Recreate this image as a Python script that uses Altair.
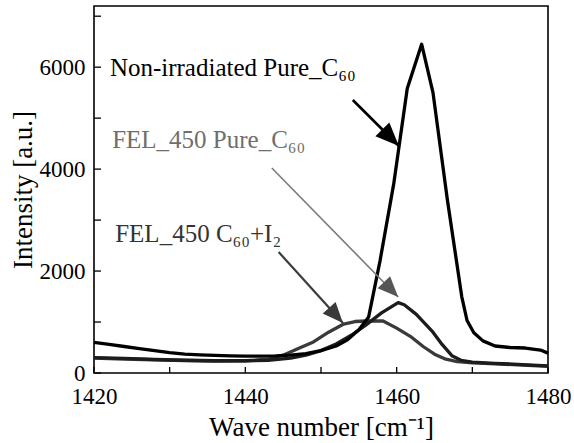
import altair as alt
import pandas as pd

# ---- data ----
black_x = [1420, 1422, 1424, 1426, 1428, 1430, 1432, 1434, 1436, 1438, 1440, 1442, 1444, 1446,
           1448, 1450, 1452, 1453.5, 1455, 1456.3, 1457.8, 1459.6, 1461.4, 1463.3, 1464.8,
           1466.7, 1468.6, 1469.3, 1470.2, 1471.4, 1473, 1475, 1477, 1479, 1480]
black_y = [600, 560, 520, 480, 440, 400, 370, 355, 345, 335, 330, 330, 335, 350,
           380, 440, 530, 650, 850, 1100, 2200, 3700, 5580, 6450, 5500,
           3400, 1500, 1030, 790, 630, 530, 500, 490, 450, 390]

pure_x = [1420, 1424, 1428, 1432, 1436, 1440, 1443, 1446, 1448, 1450, 1452, 1454, 1456, 1458,
          1460.2, 1461, 1462.6, 1464.8, 1466, 1467.3, 1468.5, 1470, 1473, 1476, 1480]
pure_y = [300, 285, 265, 250, 240, 240, 250, 290, 350, 440, 570, 740, 950, 1180,
          1380, 1340, 1150, 800, 560, 340, 250, 215, 190, 170, 140]

iod_x = [1420, 1424, 1428, 1432, 1436, 1440, 1443, 1445, 1447, 1449, 1451, 1453, 1454.5, 1456,
         1458.2, 1460, 1461.8, 1463.5, 1465, 1466.5, 1468, 1470, 1473, 1476, 1480]
iod_y = [290, 275, 260, 245, 235, 240, 270, 350, 480, 610, 800, 960, 1010, 1020,
         1020, 880, 720, 520, 370, 270, 225, 200, 180, 160, 130]

series_names = ["FEL_450 C60+I2", "FEL_450 Pure_C60", "Non-irradiated Pure_C60"]

label_text = ["Non-irradiated Pure_C₆₀", "FEL_450 Pure_C₆₀", "FEL_450 C₆₀+I₂"]
label_x = [1422.1, 1422.4, 1422.8]
label_y = [5827, 4414, 2570]

arrow_x1 = [1454.2, 1443.5, 1444.4]
arrow_y1 = [5356, 4022, 2374]
arrow_x2 = [1460.3, 1460.2, 1452.9]
arrow_y2 = [4454, 1491, 981]
arrow_angle = [135, 136, 138]

x_ticks = [1420, 1430, 1440, 1450, 1460, 1470, 1480]
y_ticks = [0, 1000, 2000, 3000, 4000, 5000, 6000, 7000]
x_labels = [1420, 1440, 1460, 1480]
y_labels = [0, 2000, 4000, 6000]

# ---- tables ----
curves = pd.concat([
    pd.DataFrame({"wn": iod_x, "I": iod_y, "series": series_names[0]}),
    pd.DataFrame({"wn": pure_x, "I": pure_y, "series": series_names[1]}),
    pd.DataFrame({"wn": black_x, "I": black_y, "series": series_names[2]}),
], ignore_index=True)

labels = pd.DataFrame({"t": label_text, "x": label_x, "y": label_y})
arrows = pd.DataFrame({"x1": arrow_x1, "y1": arrow_y1, "x2": arrow_x2, "y2": arrow_y2,
                       "ang": arrow_angle, "k": [0, 1, 2]})

W, H = 454, 367
FONT = "Liberation Serif"
xs = alt.Scale(domain=[1420, 1480], nice=False, zero=False)
ys = alt.Scale(domain=[0, 7200], nice=False, zero=False)

x_axis = alt.Axis(
    values=x_labels, title="Wave number [cm⁻¹]", labelPadding=12, labelFlush=False,
    labelOverlap=False, format="d", titleY=62, titleX=W / 2, titleAlign="center",
    titleBaseline="alphabetic")
y_axis = alt.Axis(
    values=y_labels, title="Intensity [a.u.]", labelPadding=9, labelOverlap=False,
    format="d", titleX=-71, titleY=H / 2, titleAlign="center", titleBaseline="middle",
    titleAngle=270)


def X(f):
    return alt.X(f, scale=xs, axis=x_axis, title="Wave number [cm⁻¹]")


def Y(f):
    return alt.Y(f, scale=ys, axis=y_axis, title="Intensity [a.u.]")


lines = alt.Chart(curves).mark_line(strokeWidth=3.3, strokeJoin="round").encode(
    x=X("wn:Q"),
    y=Y("I:Q"),
    color=alt.Color("series:N", scale=alt.Scale(domain=series_names,
                                                 range=["#3a3a3a", "#1c1c1c", "#000000"]),
                    legend=None),
    detail="series:N",
)

xt = alt.Chart(pd.DataFrame({"t": x_ticks})).mark_rule(color="black", strokeWidth=1.3).encode(
    x=X("t:Q"), y=alt.value(H), y2=alt.value(H - 6))
yt = alt.Chart(pd.DataFrame({"t": y_ticks})).mark_rule(color="black", strokeWidth=1.3).encode(
    y=Y("t:Q"), x=alt.value(0), x2=alt.value(7))

arrow_colors = ["#000000", "#7a7a7a", "#3c3c3c"]
head_colors = ["#000000", "#555555", "#3a3a3a"]
arrow_widths = [2.6, 1.6, 2.2]
head_sizes = [2200, 1700, 1700]

layers = [lines, xt, yt]
for i in range(3):
    a = arrows[arrows["k"] == i]
    layers.append(alt.Chart(a).mark_rule(color=arrow_colors[i], strokeWidth=arrow_widths[i]).encode(
        x=X("x1:Q"), y=Y("y1:Q"), x2="x2:Q", y2="y2:Q"))
    layers.append(alt.Chart(a).mark_point(
        shape="M0,0L-0.42,1L0.42,1Z", filled=True, opacity=1, color=head_colors[i],
        size=head_sizes[i], angle=arrow_angle[i]).encode(x=X("x2:Q"), y=Y("y2:Q")))

text_colors = ["#000000", "#6e6e6e", "#333333"]
for i in range(3):
    layers.append(alt.Chart(labels.iloc[[i]]).mark_text(
        align="left", baseline="alphabetic", font=FONT, fontSize=25, color=text_colors[i]).encode(
        x=X("x:Q"), y=Y("y:Q"), text="t:N"))

chart = alt.layer(*layers).properties(
    width=W, height=H,
    autosize=alt.AutoSizeParams(type="none"),
    padding={"left": 94, "top": 6, "right": 26, "bottom": 70},
).configure_view(stroke="black", strokeWidth=1.6).configure_axis(
    grid=False, ticks=False, domain=False,
    labelFont=FONT, labelFontSize=23, labelColor="black",
    titleFont=FONT, titleFontSize=27, titleFontWeight="normal", titleColor="black",
)

chart.save("out.html", embed_options={"renderer": "svg", "actions": False})
